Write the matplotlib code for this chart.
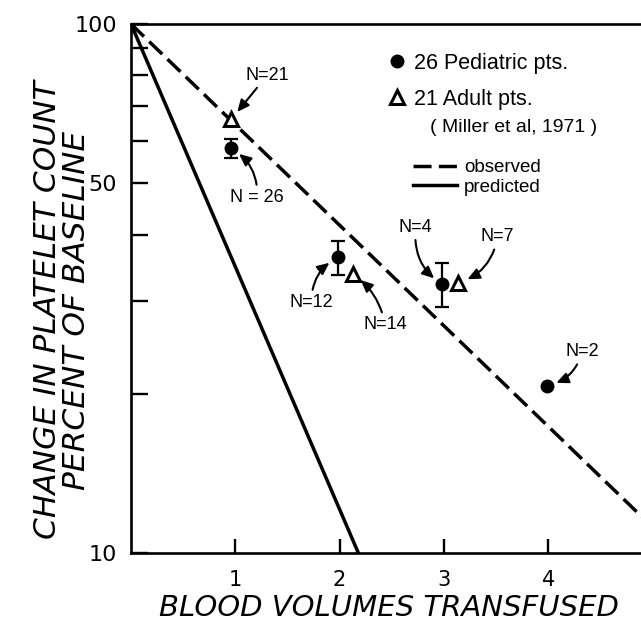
import numpy as np
import matplotlib
matplotlib.use("Agg")
import matplotlib.pyplot as plt
from matplotlib.ticker import NullFormatter

# Observed line and predicted line (percent of baseline)
observed_x = [0.0, 5.0]
observed_y = [100.0, 11.2]
predicted_x = [0.0, 2.18]
predicted_y = [100.0, 10.0]

# 26 pediatric patients, with error bars
ped_x = [0.96, 1.98, 2.98, 3.99]
ped_y = [58.2, 36.2, 32.2, 20.7]
ped_lo = [55.7, 33.5, 29.2, np.nan]
ped_hi = [60.6, 38.9, 35.4, np.nan]
ped_n = ["N = 26", "N=12", "N=4", "N=2"]

# 21 adult patients (Miller et al, 1971)
adult_x = [0.96, 2.13, 3.14]
adult_y = [66.0, 33.7, 32.4]
adult_n = ["N=21", "N=14", "N=7"]

x_ticks = [1, 2, 3, 4]
y_ticks = [10, 50, 100]
y_minor = [20, 30, 40, 60, 70, 80, 90]

LEG_FONT = ["Liberation Sans", "DejaVu Sans"]

fig = plt.figure(figsize=(6.41, 6.31), dpi=100)
ax = fig.add_axes([131 / 641, 78 / 631, 1 - 131 / 641, 529 / 631])

obs_line, = ax.plot(observed_x, observed_y, color="black", lw=2.5,
                    linestyle=(0, (5.2, 2.1)), label="observed")
pred_line, = ax.plot(predicted_x, predicted_y, color="black", lw=2.5,
                     label="predicted")

yerr = [np.array(ped_y) - np.array(ped_lo), np.array(ped_hi) - np.array(ped_y)]
ax.errorbar(ped_x, ped_y, yerr=yerr, fmt="none", ecolor="black",
            elinewidth=1.6, capsize=5, capthick=1.6, zorder=3)
ped_pts, = ax.plot(ped_x, ped_y, "o", color="black", ms=9, zorder=4,
                   linestyle="none", label="26 Pediatric pts.")
adult_pts, = ax.plot(adult_x, adult_y, "^", mfc="white", mec="black",
                     mew=2.2, ms=10, zorder=4, linestyle="none",
                     label="21 Adult pts.")

# curved arrows with N labels (offsets in pixels)
ped_off = [(26, -49, 0.3), (-26, -45, -0.3), (-26, 57, 0.3), (35, 34, -0.3)]
adult_off = [(36, 44, 0.0), (32, -51, 0.2), (39, 46, -0.3)]
for xs, ys, labels, offs in [(ped_x, ped_y, ped_n, ped_off),
                             (adult_x, adult_y, adult_n, adult_off)]:
    for x, y, lab, (dx, dy, rad) in zip(xs, ys, labels, offs):
        ax.annotate(lab, xy=(x, y), xytext=(dx, dy), textcoords="offset pixels",
                    ha="center", va="center", fontsize=13, family=LEG_FONT,
                    arrowprops=dict(arrowstyle="-|>,head_length=0.55,head_width=0.25",
                                    color="black", lw=1.5, shrinkA=1, shrinkB=7,
                                    connectionstyle=f"arc3,rad={rad}"))

ax.set_yscale("log")
ax.set_xlim(0, 4.89)
ax.set_ylim(10, 100)
ax.set_yticks(y_ticks, labels=[str(v) for v in y_ticks])
ax.set_yticks(y_minor, minor=True)
ax.yaxis.set_minor_formatter(NullFormatter())
ax.set_xticks(x_ticks, labels=[str(v) for v in x_ticks])

ax.tick_params(axis="y", which="both", direction="in", length=12, width=1.7,
               labelsize=16, pad=10)
ax.tick_params(axis="x", which="both", direction="in", length=10, width=1.7,
               labelsize=15, pad=12)
ax.spines["right"].set_visible(False)
for s in ["left", "bottom", "top"]:
    ax.spines[s].set_linewidth(1.9)

fig.text(62 / 641, 1 - 310 / 631, "CHANGE IN PLATELET COUNT\nPERCENT OF BASELINE",
         rotation=90, ha="center", va="center", multialignment="center",
         fontsize=22.5, fontstyle="italic", linespacing=1.0)
fig.text(389 / 641, 1 - 608 / 631, "BLOOD VOLUMES TRANSFUSED",
         ha="center", va="center", fontsize=21, fontstyle="italic")

leg1 = ax.legend(handles=[ped_pts, adult_pts], loc="upper left",
                 bbox_to_anchor=(375 / 641, 1 - 42 / 631),
                 bbox_transform=fig.transFigure, frameon=False, borderpad=0,
                 handlelength=1.0, handletextpad=0.3, labelspacing=0.7,
                 prop={"family": LEG_FONT, "size": 15.5})
ax.add_artist(leg1)
fig.text(430 / 641, 1 - 128 / 631, "( Miller et al, 1971 )", ha="left",
         va="center", fontsize=14, family=LEG_FONT)
ax.legend(handles=[obs_line, pred_line], loc="upper left",
          bbox_to_anchor=(404 / 641, 1 - 150 / 631),
          bbox_transform=fig.transFigure, frameon=False, borderpad=0,
          handlelength=2.3, handletextpad=0.4, labelspacing=0.1,
          prop={"family": LEG_FONT, "size": 13.5})

fig.savefig("out.png", dpi=100)
